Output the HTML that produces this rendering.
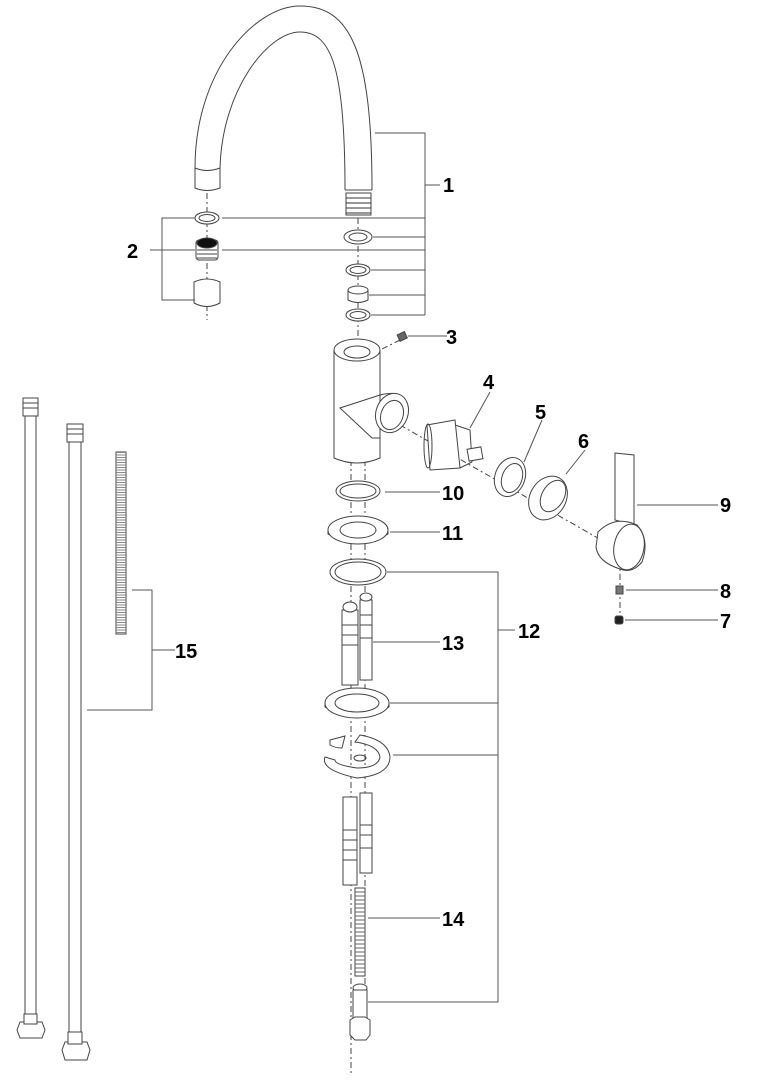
<!DOCTYPE html>
<html><head><meta charset="utf-8"><style>
html,body{margin:0;padding:0;background:#fff;}
svg{display:block;}
text{font-family:"Liberation Sans",sans-serif;font-size:20px;font-weight:bold;fill:#000;}
</style></head><body>
<svg width="763" height="1080" viewBox="0 0 763 1080" xmlns="http://www.w3.org/2000/svg">
<g fill="none" stroke="#444" stroke-width="1">
<!-- spout -->
<path d="M195,168 C195,70 255,6 300,6 C350,6 372,50 372,190"/>
<path d="M220,168 C222,90 268,32 300,32 C332,32 345,70 345,190"/>
<path d="M195,168 L195,188 Q207,193 220,188 L220,168 Q207,173 195,168"/>
<line x1="345" y1="190" x2="372" y2="190"/>
<rect x="346" y="193" width="25" height="22" fill="#fff"/>
<path d="M346,198 h25 M346,203 h25 M346,208 h25 M346,213 h25" stroke="#333"/>
<!-- center dash lines -->
<g stroke-dasharray="6,3,2,3">
<line x1="207" y1="193" x2="207" y2="320"/>
<line x1="358" y1="218" x2="358" y2="345"/>
<line x1="351" y1="460" x2="351" y2="1075"/>
<line x1="365" y1="460" x2="365" y2="985"/>
<line x1="400" y1="340" x2="380" y2="350"/>
<line x1="400" y1="425" x2="610" y2="545"/>
<line x1="620" y1="560" x2="620" y2="625"/>
</g>
<!-- left column parts -->
<ellipse cx="207" cy="218" rx="12" ry="6" fill="#fff"/><ellipse cx="207" cy="218" rx="8" ry="3.5"/>
<rect x="196" y="240" width="22" height="20" rx="3" fill="#fff"/>
<ellipse cx="207" cy="243" rx="10" ry="5" fill="#111"/>
<path d="M197,250 h20 M197,254 h20 M197,258 h20"/>
<path d="M194,282 L194,303 Q207,310 220,303 L220,282 Q207,276 194,282Z" fill="#fff"/>
<!-- right column parts -->
<ellipse cx="358" cy="237" rx="14" ry="7" fill="#fff"/><ellipse cx="358" cy="237" rx="9" ry="4"/>
<ellipse cx="358" cy="270" rx="12" ry="6" fill="#fff"/><ellipse cx="358" cy="270" rx="8" ry="3.5"/>
<path d="M348,290 L348,300 Q358,305 368,300 L368,290" fill="#fff"/><ellipse cx="358" cy="290" rx="10" ry="4" fill="#fff"/>
<ellipse cx="358" cy="315" rx="12" ry="6" fill="#fff"/><ellipse cx="358" cy="315" rx="8" ry="3.5"/>
<!-- screw 3 -->
<rect x="398" y="333" width="8" height="7" fill="#666" transform="rotate(-25 402 336)"/>
<!-- body -->
<path d="M334,350 L334,458 Q357,468 380,458 L380,350" fill="#fff"/>
<ellipse cx="357" cy="350" rx="23" ry="11" fill="#fff"/><ellipse cx="357" cy="352" rx="13" ry="6"/>
<path d="M380,395 L340,408 L372,438 L380,438"/>
<path d="M380,395 Q400,390 405,400"/>
<ellipse cx="392" cy="413" rx="16" ry="20" fill="#fff" transform="rotate(20 392 413)"/>
<ellipse cx="392" cy="415" rx="11" ry="15" transform="rotate(20 392 415)"/>
<!-- cartridge 4 -->
<path d="M427,425 L455,420 L460,468 L430,470Z" fill="#fff"/>
<path d="M455,425 L470,430 L472,462 L460,468"/>
<rect x="468" y="448" width="14" height="12" fill="#fff" transform="rotate(-10 475 454)"/>
<ellipse cx="428" cy="446" rx="4" ry="22"/>
<!-- ring 5 -->
<ellipse cx="510" cy="477" rx="15" ry="20" fill="#fff" transform="rotate(20 510 477)"/>
<ellipse cx="512" cy="478" rx="10" ry="15" transform="rotate(20 512 478)"/>
<!-- ring 6 -->
<ellipse cx="548" cy="498" rx="18" ry="23" fill="#fff" transform="rotate(30 548 498)"/>
<ellipse cx="553" cy="496" rx="11" ry="17" transform="rotate(30 553 496)"/>
<!-- handle 9 -->
<path d="M615,453 L634,455 L634,525 L615,520Z" fill="#fff"/>
<path d="M598,532 Q615,515 637,525 Q650,540 642,562 Q632,574 620,569 Q598,562 596,547Z" fill="#fff"/>
<ellipse cx="629" cy="547" rx="15" ry="23" transform="rotate(10 629 547)"/>
<rect x="616" y="586" width="7" height="8" fill="#777"/>
<rect x="615" y="616" width="8" height="8" rx="2" fill="#222"/>
<!-- ring 10, washer 11, ring 12 -->
<ellipse cx="358" cy="491" rx="22" ry="10" fill="#fff"/><ellipse cx="358" cy="491" rx="18" ry="7"/>
<path d="M328,530 v4 Q358,553 388,534 v-4"/>
<ellipse cx="358" cy="530" rx="30" ry="14" fill="#fff"/><ellipse cx="358" cy="530" rx="18" ry="8"/>
<ellipse cx="358" cy="572" rx="28" ry="13" fill="#fff"/><ellipse cx="358" cy="572" rx="23" ry="10"/>
<!-- hoses 13 -->
<rect x="342" y="610" width="16" height="75" fill="#fff"/>
<rect x="360" y="600" width="12" height="80" fill="#fff"/>
<path d="M342,625 h16 M342,635 h16 M342,645 h16 M360,615 h12 M360,625 h12 M360,638 h12"/>
<ellipse cx="350" cy="607" rx="7" ry="5" fill="#fff"/><ellipse cx="366" cy="597" rx="6" ry="4" fill="#fff"/>
<!-- washer -->
<path d="M325,703 v4 Q357,728 389,707 v-4"/>
<ellipse cx="357" cy="703" rx="32" ry="15" fill="#fff"/><ellipse cx="357" cy="703" rx="22" ry="9"/>
<!-- horseshoe -->
<path d="M330,740 L345,736 L342,748 Q335,748 330,745Z" fill="#fff"/>
<path d="M325,757 Q320,770 357,778 Q390,775 390,757 Q388,740 360,735 L355,742 Q378,745 380,757 Q378,768 357,768 Q335,765 335,760Z" fill="#fff"/>
<ellipse cx="360" cy="758" rx="6" ry="3"/>
<!-- lower hoses -->
<rect x="343" y="797" width="14" height="88" fill="#fff"/>
<rect x="360" y="793" width="12" height="80" fill="#fff"/>
<path d="M343,830 h14 M343,840 h14 M343,850 h14 M343,860 h14 M360,825 h12 M360,835 h12 M360,848 h12"/>
<!-- rod 14 -->
<rect x="355" y="888" width="10" height="88" fill="#fff" stroke="#444"/>
<path d="M355,892 h10 M355,896 h10 M355,900 h10 M355,904 h10 M355,908 h10 M355,912 h10 M355,916 h10 M355,920 h10 M355,924 h10 M355,928 h10 M355,932 h10 M355,936 h10 M355,940 h10 M355,944 h10 M355,948 h10 M355,952 h10 M355,956 h10 M355,960 h10 M355,964 h10 M355,968 h10 M355,972 h10" stroke="#666"/>
<!-- nut -->
<ellipse cx="360" cy="988" rx="7" ry="4" fill="#fff"/>
<rect x="353" y="990" width="14" height="28" fill="#fff"/>
<path d="M350,1020 L350,1035 L355,1040 L366,1040 L370,1035 L370,1020 L365,1017 L355,1017Z" fill="#fff"/>
<!-- left hoses -->
<rect x="25" y="412" width="11" height="610" fill="#fff"/>
<rect x="23" y="398" width="15" height="18" fill="#fff"/><path d="M23,403 h15 M23,408 h15"/>
<path d="M17,1030 L20,1022 L42,1022 L45,1030 L42,1038 L20,1038Z" fill="#fff"/>
<rect x="24" y="1014" width="13" height="10" fill="#fff"/>
<rect x="69" y="437" width="12" height="605" fill="#fff"/>
<rect x="67" y="424" width="16" height="18" fill="#fff"/><path d="M67,429 h16 M67,434 h16"/>
<path d="M62,1050 L65,1042 L87,1042 L90,1050 L87,1060 L65,1060Z" fill="#fff"/>
<rect x="68" y="1032" width="14" height="12" fill="#fff"/>
<rect x="116" y="452" width="10" height="182" fill="#fff" stroke="#444"/>
<path d="M116,452 v182" stroke="#888" stroke-width="10" stroke-dasharray="1,1.5" transform="translate(5,0)"/>
</g>
<!-- leader lines -->
<g fill="none" stroke="#555" stroke-width="1">
<path d="M375,133 H425 V315 M425,185 H440"/>
<path d="M222,218 H425 M373,237 H425 M222,250 H425 M371,270 H425 M369,295 H425 M371,315 H425"/>
<path d="M150,250 H195 M195,218 H162 V300 H195"/>
<path d="M408,336 H447"/>
<path d="M470,428 L490,392 M524,462 L542,420 M566,474 L585,450"/>
<path d="M637,505 H718 M626,590 H718 M625,620 H718"/>
<path d="M385,492 H440 M390,532 H440"/>
<path d="M387,572 H498 V1002 H368 M498,630 H515 M390,703 H498 M393,755 H498"/>
<path d="M373,642 H440 M368,918 H440"/>
<path d="M132,590 H152 V710 H87 M152,650 H175"/>
</g>
<g>
<text x="443" y="192">1</text>
<text x="127" y="258">2</text>
<text x="446" y="344">3</text>
<text x="483" y="389">4</text>
<text x="535" y="419">5</text>
<text x="578" y="448">6</text>
<text x="720" y="598">8</text>
<text x="720" y="628">7</text>
<text x="720" y="512">9</text>
<text x="442" y="500">10</text>
<text x="442" y="540">11</text>
<text x="518" y="638">12</text>
<text x="442" y="650">13</text>
<text x="442" y="926">14</text>
<text x="175" y="658">15</text>
</g>
</svg>
</body></html>
